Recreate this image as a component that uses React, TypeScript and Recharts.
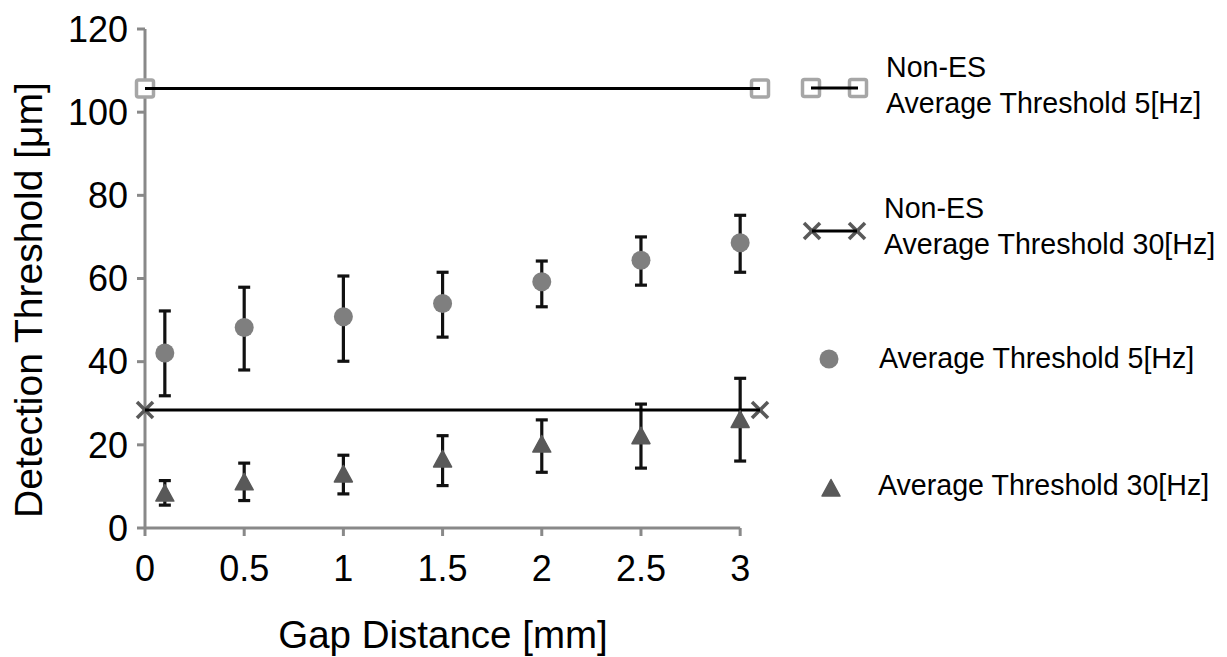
import React from 'react';
import { ScatterChart, Scatter, XAxis, YAxis, ErrorBar, ReferenceLine } from 'recharts';

// ---- data ----
const gapDistance = [0.1, 0.5, 1, 1.5, 2, 2.5, 3];
const avg5Hz = [42.1, 48.2, 50.8, 54.0, 59.2, 64.4, 68.6];
const avg5HzLow = [31.8, 38.0, 40.1, 45.9, 53.2, 58.4, 61.5];
const avg5HzHigh = [52.2, 57.9, 60.6, 61.5, 64.2, 70.0, 75.2];
const avg30Hz = [8.4, 11.1, 13.0, 16.6, 20.2, 22.2, 26.1];
const avg30HzLow = [5.5, 6.6, 8.2, 10.2, 13.4, 14.4, 16.1];
const avg30HzHigh = [11.4, 15.6, 17.5, 22.2, 26.0, 29.8, 36.0];
const nonEsX = [0, 3.1];
const nonEs5Hz = [105.7, 105.7];
const nonEs30Hz = [28.4, 28.4];
const xTicks = [0, 0.5, 1, 1.5, 2, 2.5, 3];
const yTicks = [0, 20, 40, 60, 80, 100, 120];
const legendLabels = [
  ['Non-ES', 'Average Threshold 5[Hz]'],
  ['Non-ES', 'Average Threshold 30[Hz]'],
  ['Average Threshold 5[Hz]'],
  ['Average Threshold 30[Hz]'],
];

const FONT = '"Liberation Sans", Arial, sans-serif';
const AXIS = '#898989';

const data5 = gapDistance.map((x, i) => ({ x, y: avg5Hz[i], err: [avg5Hz[i] - avg5HzLow[i], avg5HzHigh[i] - avg5Hz[i]] }));
const data30 = gapDistance.map((x, i) => ({ x, y: avg30Hz[i], err: [avg30Hz[i] - avg30HzLow[i], avg30HzHigh[i] - avg30Hz[i]] }));
const dataNon5 = nonEsX.map((x, i) => ({ x, y: nonEs5Hz[i] }));
const dataNon30 = nonEsX.map((x, i) => ({ x, y: nonEs30Hz[i] }));

const Square = ({ cx, cy }: any) => (
  <rect x={cx - 8.5} y={cy - 8.5} width={17} height={17} rx={2} fill="#fff" stroke="#a6a6a6" strokeWidth={3.5} />
);
const Cross = ({ cx, cy }: any) => (
  <g stroke="#595959" strokeWidth={3.5}>
    <line x1={cx - 8} y1={cy - 8} x2={cx + 8} y2={cy + 8} />
    <line x1={cx - 8} y1={cy + 8} x2={cx + 8} y2={cy - 8} />
  </g>
);
const Dot = ({ cx, cy }: any) => <circle cx={cx} cy={cy} r={9.5} fill="#7f7f7f" />;
const Tri = ({ cx, cy }: any) => (
  <polygon
    points={`${cx},${cy - 8.5} ${cx + 9},${cy + 8} ${cx - 9},${cy + 8}`}
    fill="#595959"
    stroke="#595959"
    strokeWidth={1.5}
    strokeLinejoin="round"
  />
);
const Nothing = () => <g />;

const Legend = () => {
  const textStyle = { fontFamily: FONT, fontSize: 28.6, fill: '#000' } as const;
  return (
    <svg width={1227} height={657} style={{ position: 'absolute', left: 0, top: 0, pointerEvents: 'none' }}>
      {/* entry 1 */}
      <Square cx={811} cy={88} />
      <Square cx={858} cy={88} />
      <line x1={811} y1={88} x2={858} y2={88} stroke="#000" strokeWidth={3} />
      <text x={886} y={77} style={textStyle}>{legendLabels[0][0]}</text>
      <text x={886} y={113} style={textStyle}>{legendLabels[0][1]}</text>
      {/* entry 2 */}
      <Cross cx={812} cy={231} />
      <Cross cx={857} cy={231} />
      <line x1={812} y1={231} x2={857} y2={231} stroke="#000" strokeWidth={3} />
      <text x={884} y={218} style={textStyle}>{legendLabels[1][0]}</text>
      <text x={884} y={254} style={textStyle}>{legendLabels[1][1]}</text>
      {/* entry 3 */}
      <Dot cx={829} cy={359} />
      <text x={879} y={368} style={textStyle}>{legendLabels[2][0]}</text>
      {/* entry 4 */}
      <Tri cx={831} cy={488} />
      <text x={878} y={495} style={textStyle}>{legendLabels[3][0]}</text>
    </svg>
  );
};

const YTitle = () => (
  <text x={42} y={300} transform="rotate(-90, 42, 300)" textAnchor="middle" style={{ fontFamily: FONT, fontSize: 39, fill: '#000' }}>
    Detection Threshold [μm]
  </text>
);
const XTitle = () => (
  <text x={443} y={648} textAnchor="middle" style={{ fontFamily: FONT, fontSize: 38.5, fill: '#000' }}>
    Gap Distance [mm]
  </text>
);

export default function App() {
  return (
    <div style={{ position: 'absolute', left: 0, top: 0, width: 1227, height: 657, background: '#fff' }}>
      <ScatterChart width={1227} height={657} margin={{ top: 29, right: 467, bottom: 29, left: 0 }}>
        <XAxis
          type="number"
          dataKey="x"
          domain={[0, 3.1]}
          ticks={xTicks}
          interval={0}
          height={100}
          axisLine={false}
          tickLine={{ stroke: AXIS, strokeWidth: 3 }}
          tickSize={8}
          tickMargin={19}
          tick={{ fill: '#000', fontSize: 36, fontFamily: FONT }}
          label={<XTitle />}
        />
        <YAxis
          type="number"
          dataKey="y"
          domain={[0, 120]}
          ticks={yTicks}
          interval={0}
          width={145}
          axisLine={{ stroke: AXIS, strokeWidth: 3 }}
          tickLine={{ stroke: AXIS, strokeWidth: 3 }}
          tickSize={8}
          tickMargin={9}
          tick={{ fill: '#000', fontSize: 36, fontFamily: FONT }}
          label={<YTitle />}
        />
        <ReferenceLine
          segment={[{ x: 0, y: 0 }, { x: 3, y: 0 }]}
          stroke={AXIS}
          strokeWidth={3}
          ifOverflow="visible"
        />
        <Scatter data={dataNon5} dataKey="y" shape={<Square />} isAnimationActive={false} />
        <Scatter data={dataNon5} dataKey="y" shape={<Nothing />} line={{ stroke: '#000', strokeWidth: 3 }} isAnimationActive={false} />
        <Scatter data={dataNon30} dataKey="y" shape={<Cross />} isAnimationActive={false} />
        <Scatter data={dataNon30} dataKey="y" shape={<Nothing />} line={{ stroke: '#000', strokeWidth: 3 }} isAnimationActive={false} />
        <Scatter data={data5} dataKey="y" shape={<Dot />} isAnimationActive={false}>
          <ErrorBar dataKey="err" direction="y" width={6} stroke="#111" strokeWidth={3.2} isAnimationActive={false} />
        </Scatter>
        <Scatter data={data30} dataKey="y" shape={<Tri />} isAnimationActive={false}>
          <ErrorBar dataKey="err" direction="y" width={6} stroke="#111" strokeWidth={3.2} isAnimationActive={false} />
        </Scatter>
      </ScatterChart>
      <Legend />
    </div>
  );
}
